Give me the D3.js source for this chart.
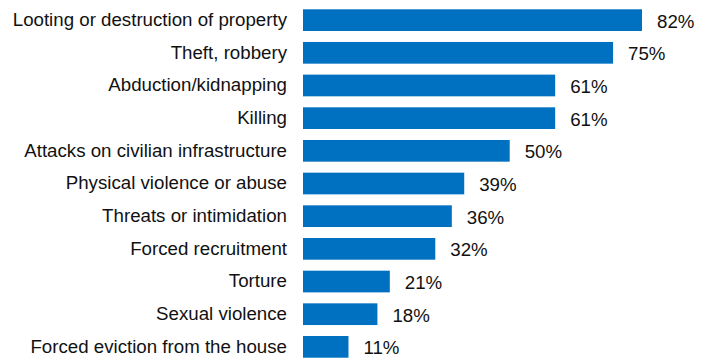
<!DOCTYPE html>
<html>
<head>
<meta charset="utf-8">
<script src="https://cdn.jsdelivr.net/npm/d3@7"></script>
<style>
  html, body { margin: 0; padding: 0; background: #fff; }
  svg { display: block; }
  text { font-family: "Liberation Sans", Arial, sans-serif; fill: #111; }
</style>
</head>
<body>
<svg id="chart" width="708" height="360"></svg>
<script>
// Share of respondents reporting each type of incident (%)
const categories = [
  "Looting or destruction of property",
  "Theft, robbery",
  "Abduction/kidnapping",
  "Killing",
  "Attacks on civilian infrastructure",
  "Physical violence or abuse",
  "Threats or intimidation",
  "Forced recruitment",
  "Torture",
  "Sexual violence",
  "Forced eviction from the house"
];
const values = [82, 75, 61, 61, 50, 39, 36, 32, 21, 18, 11];
const valueLabels = ["82%", "75%", "61%", "61%", "50%", "39%", "36%", "32%", "21%", "18%", "11%"];

const rows = categories.map((c, i) => ({ category: c, value: values[i], label: valueLabels[i] }));

const svg = d3.select("#chart");
const fontSize = 18.7;

const x = d3.scaleLinear().domain([0, 100]).range([303, 716.4]);
const y = d3.scaleBand()
  .domain(categories)
  .range([3.8, 363.2])
  .paddingInner(0.336)
  .paddingOuter(0.168);

// bars
svg.append("g")
  .selectAll("rect")
  .data(rows)
  .join("rect")
  .attr("x", x(0))
  .attr("y", d => y(d.category))
  .attr("width", d => x(d.value) - x(0))
  .attr("height", y.bandwidth())
  .attr("fill", "#0070C0");

// category labels
const yAxis = d3.axisLeft(y).tickSize(0).tickPadding(0);
const ax = svg.append("g")
  .attr("transform", `translate(${x(0) - 16},0)`)
  .call(yAxis);
ax.select(".domain").remove();
ax.selectAll("text")
  .attr("font-size", fontSize)
  .attr("font-family", "Liberation Sans, Arial, sans-serif")
  .attr("fill", "#111")
  .attr("dy", "0.315em");

// value labels
svg.append("g")
  .selectAll("text")
  .data(rows)
  .join("text")
  .attr("x", d => x(d.value) + 15)
  .attr("y", d => y(d.category) + y.bandwidth() / 2)
  .attr("dy", "0.4em")
  .attr("font-size", fontSize)
  .text(d => d.label);
</script>
</body>
</html>
